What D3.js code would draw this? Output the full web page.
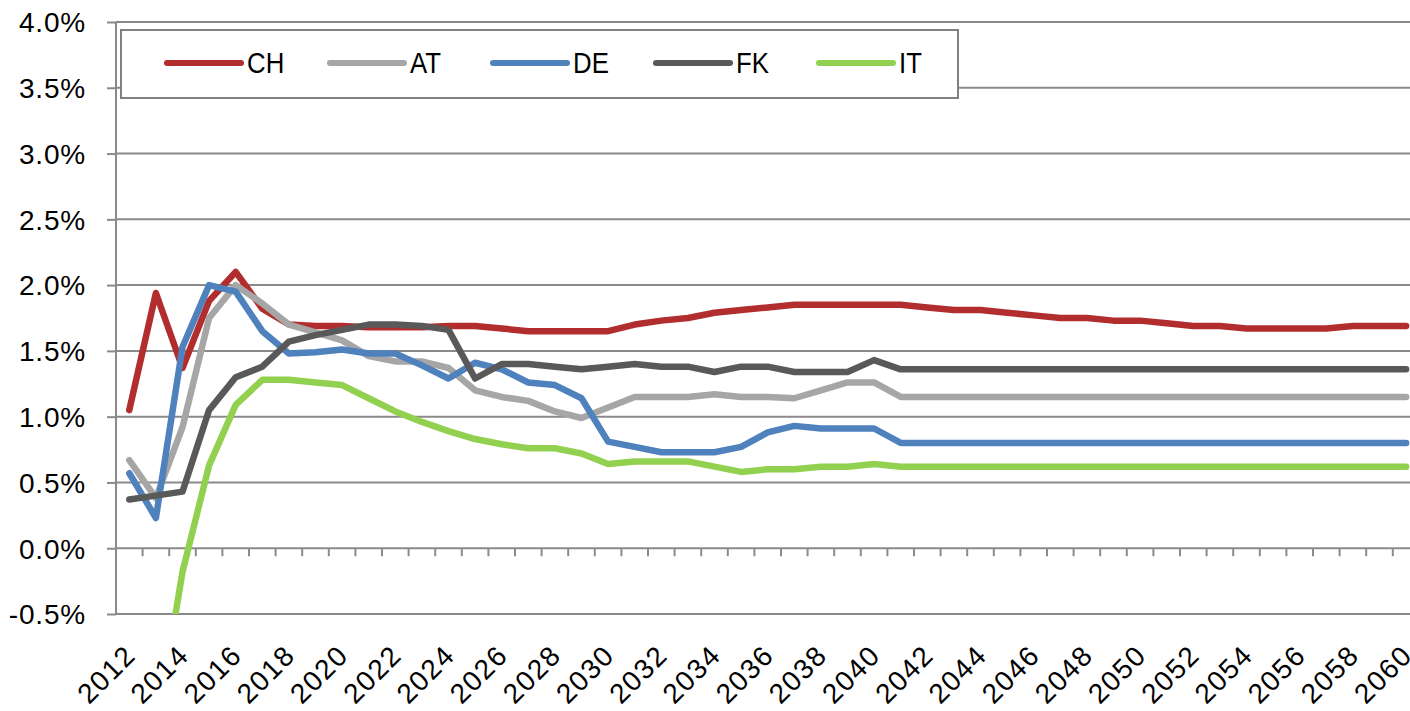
<!DOCTYPE html>
<html>
<head>
<meta charset="utf-8">
<script src="https://cdn.jsdelivr.net/npm/d3@7"></script>
<style>
  html, body { margin: 0; padding: 0; background: #ffffff; }
  svg { display: block; }
  text { font-family: "Liberation Sans", Arial, sans-serif; fill: #000; }
</style>
</head>
<body>
<svg id="chart" width="1410" height="711"></svg>
<script>
// Annual rates, in percent, 2012–2060
const years = d3.range(2012, 2061);
const seriesNames = ["CH", "AT", "DE", "FK", "IT"];
const seriesColors = ["#B22E2E", "#A6A6A6", "#4F81BD", "#595959", "#92D050"];

const CH = [1.05, 1.94, 1.37, 1.88, 2.10, 1.82, 1.70, 1.69, 1.69, 1.68,
            1.68, 1.68, 1.69, 1.69, 1.67, 1.65, 1.65, 1.65, 1.65, 1.70,
            1.73, 1.75, 1.79, 1.81, 1.83, 1.85, 1.85, 1.85, 1.85, 1.85,
            1.83, 1.81, 1.81, 1.79, 1.77, 1.75, 1.75, 1.73, 1.73, 1.71,
            1.69, 1.69, 1.67, 1.67, 1.67, 1.67, 1.69, 1.69, 1.69];
const AT = [0.67, 0.38, 0.92, 1.75, 2.00, 1.86, 1.70, 1.64, 1.58, 1.46,
            1.42, 1.42, 1.37, 1.20, 1.15, 1.12, 1.04, 0.99, 1.07, 1.15,
            1.15, 1.15, 1.17, 1.15, 1.15, 1.14, 1.20, 1.26, 1.26, 1.15,
            1.15, 1.15, 1.15, 1.15, 1.15, 1.15, 1.15, 1.15, 1.15, 1.15,
            1.15, 1.15, 1.15, 1.15, 1.15, 1.15, 1.15, 1.15, 1.15];
const DE = [0.57, 0.23, 1.53, 2.00, 1.95, 1.65, 1.48, 1.49, 1.51, 1.48,
            1.48, 1.39, 1.29, 1.41, 1.36, 1.26, 1.24, 1.14, 0.81, 0.77,
            0.73, 0.73, 0.73, 0.77, 0.88, 0.93, 0.91, 0.91, 0.91, 0.80,
            0.80, 0.80, 0.80, 0.80, 0.80, 0.80, 0.80, 0.80, 0.80, 0.80,
            0.80, 0.80, 0.80, 0.80, 0.80, 0.80, 0.80, 0.80, 0.80];
const FK = [0.37, 0.40, 0.43, 1.05, 1.30, 1.38, 1.57, 1.62, 1.66, 1.70,
            1.70, 1.69, 1.66, 1.29, 1.40, 1.40, 1.38, 1.36, 1.38, 1.40,
            1.38, 1.38, 1.34, 1.38, 1.38, 1.34, 1.34, 1.34, 1.43, 1.36,
            1.36, 1.36, 1.36, 1.36, 1.36, 1.36, 1.36, 1.36, 1.36, 1.36,
            1.36, 1.36, 1.36, 1.36, 1.36, 1.36, 1.36, 1.36, 1.36];
const IT = [-1.9, -1.4, -0.18, 0.63, 1.09, 1.28, 1.28, 1.26, 1.24, 1.14,
            1.04, 0.96, 0.89, 0.83, 0.79, 0.76, 0.76, 0.72, 0.64, 0.66,
            0.66, 0.66, 0.62, 0.58, 0.60, 0.60, 0.62, 0.62, 0.64, 0.62,
            0.62, 0.62, 0.62, 0.62, 0.62, 0.62, 0.62, 0.62, 0.62, 0.62,
            0.62, 0.62, 0.62, 0.62, 0.62, 0.62, 0.62, 0.62, 0.62];
const seriesValues = [CH, AT, DE, FK, IT];

const yTicks = d3.range(-0.5, 4.01, 0.5);
const xLabelYears = years.filter(yr => (yr - 2012) % 2 === 0);

// Layout of the plot area
const plotLeft = 116, plotTop = 22, plotBottom = 614;
const bandStep = 26.6;
const plotRight = plotLeft + years.length * bandStep;

const svg = d3.select("#chart");

const x = d3.scaleBand().domain(years).range([plotLeft, plotRight]).padding(0);
const y = d3.scaleLinear().domain([-0.5, 4.0]).range([plotBottom, plotTop]);
const xc = yr => x(yr) + x.bandwidth() / 2;

const gridColor = "#8A8A8A";

// Horizontal gridlines
svg.append("g").selectAll("line").data(yTicks).join("line")
  .attr("x1", plotLeft).attr("x2", plotRight)
  .attr("y1", d => y(d)).attr("y2", d => y(d))
  .attr("stroke", gridColor).attr("stroke-width", 2);

// Value axis with outward ticks; plain hyphen for negatives
const yAxis = d3.axisLeft(y).tickValues(yTicks).tickSize(9)
  .tickFormat(d => (Math.round(d * 10) / 10).toFixed(1) + "%");
const gy = svg.append("g").attr("transform", `translate(${plotLeft},0)`).call(yAxis);
gy.select(".domain").attr("stroke", gridColor).attr("stroke-width", 2)
  .attr("d", `M0,${plotTop}V${plotBottom}`);
gy.selectAll(".tick line").attr("stroke", gridColor).attr("stroke-width", 2);
gy.selectAll(".tick text")
  .attr("x", -30).attr("dy", "0.35em")
  .style("font-size", "28px").style("letter-spacing", "0.8px")
  .style("font-family", "'Liberation Sans', Arial, sans-serif").attr("fill", "#000");

// Category tick marks along the zero line
const boundaries = years.map(yr => x(yr)).concat([plotRight]);
svg.append("g").selectAll("line").data(boundaries.slice(1)).join("line")
  .attr("x1", d => d).attr("x2", d => d)
  .attr("y1", y(0)).attr("y2", y(0) + 8)
  .attr("stroke", gridColor).attr("stroke-width", 2);

// Rotated year labels below the plot
svg.append("g").selectAll("text").data(xLabelYears).join("text")
  .attr("transform", d => `translate(${xc(d) + 8},657) rotate(-45)`)
  .attr("text-anchor", "end")
  .style("font-size", "28px").style("letter-spacing", "1.5px")
  .text(d => d);

// Series lines, clipped to the plot area
svg.append("clipPath").attr("id", "plotClip")
  .append("rect").attr("x", plotLeft).attr("y", plotTop)
  .attr("width", plotRight - plotLeft).attr("height", plotBottom - plotTop);

const line = d3.line().x((d, i) => xc(years[i])).y(d => y(d));
const lines = svg.append("g").attr("clip-path", "url(#plotClip)");
seriesValues.forEach((vals, i) => {
  lines.append("path")
    .attr("d", line(vals))
    .attr("fill", "none")
    .attr("stroke", seriesColors[i])
    .attr("stroke-width", 6.5)
    .attr("stroke-linejoin", "round")
    .attr("stroke-linecap", "round");
});

// Legend
const legend = svg.append("g");
legend.append("rect")
  .attr("x", 121).attr("y", 30).attr("width", 837).attr("height", 68)
  .attr("fill", "#fff").attr("stroke", "#808080").attr("stroke-width", 2);
seriesNames.forEach((name, i) => {
  const x0 = 167 + 163 * i;
  legend.append("line")
    .attr("x1", x0).attr("x2", x0 + 74).attr("y1", 63).attr("y2", 63)
    .attr("stroke", seriesColors[i]).attr("stroke-width", 6)
    .attr("stroke-linecap", "round");
  legend.append("text")
    .attr("transform", `translate(${x0 + 80},73) scale(0.86,1)`)
    .style("font-size", "30px")
    .text(name);
});
</script>
</body>
</html>
